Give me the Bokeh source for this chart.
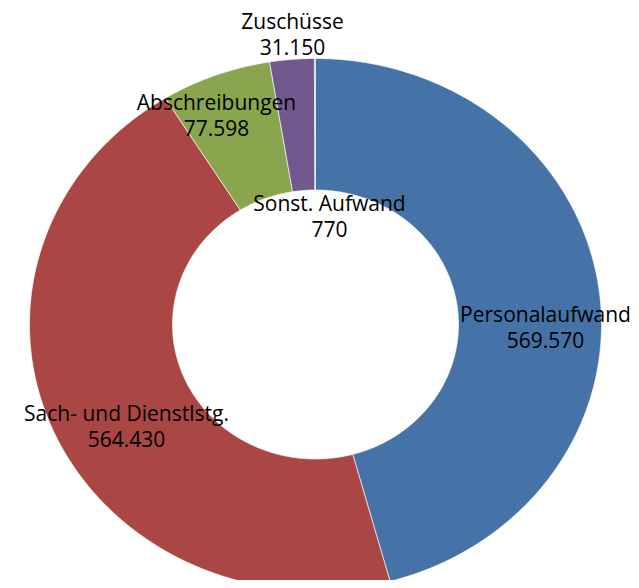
import numpy as np
from bokeh.plotting import figure
from bokeh.models import Range1d, ColumnDataSource
from bokeh.core.properties import value
from bokeh.embed import file_html
from bokeh.resources import INLINE

# --- data ---
categories = ["Personalaufwand", "Sach- und Dienstlstg.", "Abschreibungen", "Zuschüsse", "Sonst. Aufwand"]
amounts = [569570, 564430, 77598, 31150, 770]
colors = ["#4572A7", "#AA4643", "#89A54E", "#71588F", "#4198AF"]

# --- layout (pixel coordinates of the picture) ---
cx, cy = 315, 324
rx_out, ry_out = 286, 266
rx_in, ry_in = 143, 134.5
label_pos = [(545, 313), (126, 412), (216, 101), (292, 20), (329, 202)]
line_gap = 26

p = figure(width=631, height=580, output_backend="svg", toolbar_location=None,
           x_range=Range1d(0, 631), y_range=Range1d(580, 0),
           x_axis_type=None, y_axis_type=None, min_border=0)
p.outline_line_color = None
p.grid.visible = False
p.background_fill_color = "white"

total = float(sum(amounts))
start = 0.0
xs, ys = [], []
for a in amounts:
    span = a / total * 2 * np.pi
    n = max(3, int(np.degrees(span) * 2))
    t = np.linspace(start, start + span, n)
    ox = cx + rx_out * np.sin(t)
    oy = cy - ry_out * np.cos(t)
    ix = cx + rx_in * np.sin(t[::-1])
    iy = cy - ry_in * np.cos(t[::-1])
    xs.append(list(np.concatenate([ox, ix])))
    ys.append(list(np.concatenate([oy, iy])))
    start += span

src = ColumnDataSource(dict(xs=xs, ys=ys, color=colors))
p.patches("xs", "ys", source=src, fill_color="color", line_color="white",
          line_width=0.8, line_alpha=0.8)

names_src = ColumnDataSource(dict(
    x=[lp[0] for lp in label_pos],
    y=[lp[1] for lp in label_pos],
    t=categories))
vals_src = ColumnDataSource(dict(
    x=[lp[0] for lp in label_pos],
    y=[lp[1] + line_gap for lp in label_pos],
    t=[f"{a:,}".replace(",", ".") for a in amounts]))

for s in (names_src, vals_src):
    p.text("x", "y", text="t", source=s, text_font=value("Open Sans"),
           text_font_size="21px", text_align="center", text_baseline="middle",
           text_color="black")

open("out.html", "w").write(file_html(p, INLINE))
